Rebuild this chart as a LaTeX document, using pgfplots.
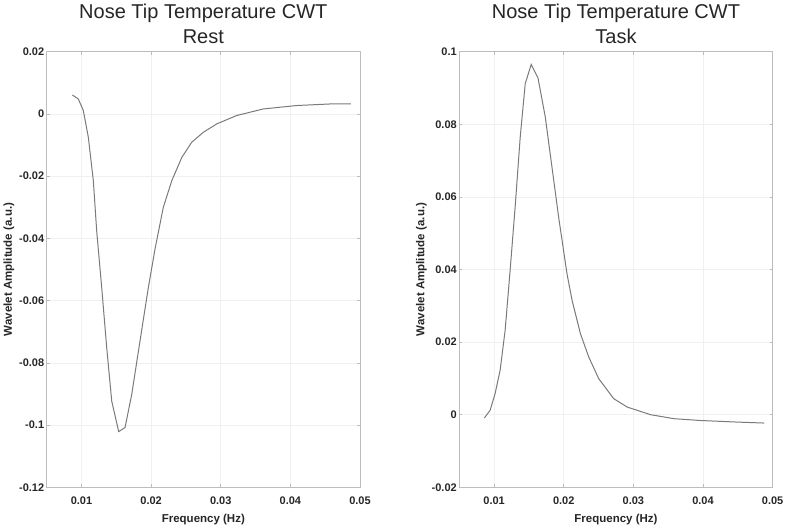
\documentclass[border=0pt]{standalone}
\usepackage{fontspec}
\setmainfont{Liberation Sans}
\usepackage{pgfplots}
\pgfplotsset{compat=1.18}

\definecolor{txt}{HTML}{262626}
\definecolor{curve}{HTML}{7A7A7A}
\definecolor{boxc}{HTML}{BDBDBD}

\pgfplotsset{
  cwt/.style={
    scale only axis,
    anchor=south west,
    width=313.3pt, height=435.6pt,
    xmin=0.005, xmax=0.05,
    scaled ticks=false,
    xtick={0.01,0.02,0.03,0.04,0.05},
    xticklabels={0.01,0.02,0.03,0.04,0.05},
    grid=major,
    major grid style={gray!12, line width=0.6pt},
    axis line style={boxc, line width=0.8pt},
    tick style={boxc, line width=0.6pt},
    major tick length=3pt,
    tick align=inside,
    tick label style={font=\fontsize{11}{12}\selectfont\bfseries, text=txt},
    xticklabel style={yshift=-6pt},
    yticklabel style={xshift=1pt},
    xlabel={Frequency (Hz)},
    ylabel={Wavelet Amplitude (a.u.)},
    label style={font=\fontsize{11.5}{13}\selectfont\bfseries, text=txt},
    xlabel style={yshift=-3pt},
    ylabel style={yshift=-2pt},
    every axis title/.style={at={(0.5,1)}, anchor=south, inner sep=0pt,
      yshift=8pt, align=center, text=txt,
      font=\fontsize{20}{25}\selectfont},
  },
}

\begin{document}
\begin{tikzpicture}
\path[use as bounding box] (0pt,0pt) rectangle (787pt,527pt);

\begin{axis}[cwt, at={(46.7pt,39.7pt)},
  title={Nose Tip Temperature CWT\\Rest},
  ymin=-0.12, ymax=0.02,
  ytick={-0.12,-0.1,-0.08,-0.06,-0.04,-0.02,0,0.02},
  yticklabels={-0.12,-0.1,-0.08,-0.06,-0.04,-0.02,0,0.02},
]
\addplot[curve, line width=1pt] coordinates {
  (0.00868,0.0061) (0.00954,0.0048) (0.01026,0.0011) (0.01098,-0.0075)
  (0.0117,-0.0215) (0.01218,-0.0376) (0.0129,-0.0558) (0.01362,-0.0751)
  (0.01434,-0.0923) (0.01534,-0.1021) (0.01625,-0.1008) (0.01721,-0.0902)
  (0.0184,-0.073) (0.0196,-0.0558) (0.02056,-0.0434) (0.02175,-0.0300)
  (0.02296,-0.0215) (0.0244,-0.0140) (0.02583,-0.0091) (0.0275,-0.0059)
  (0.02943,-0.0032) (0.0323,-0.0005) (0.03612,0.0016) (0.04092,0.0027)
  (0.0457,0.0032) (0.04868,0.0032)
};
\end{axis}

\begin{axis}[cwt, at={(459.3pt,39.7pt)},
  title={Nose Tip Temperature CWT\\Task},
  ymin=-0.02, ymax=0.1,
  ytick={-0.02,0,0.02,0.04,0.06,0.08,0.1},
  yticklabels={-0.02,0,0.02,0.04,0.06,0.08,0.1},
]
\addplot[curve, line width=1pt] coordinates {
  (0.0086,-0.0009) (0.00942,0.0012) (0.01014,0.0058) (0.01086,0.0122)
  (0.01158,0.0232) (0.0123,0.0398) (0.01302,0.0572) (0.01375,0.0765)
  (0.01447,0.0912) (0.01533,0.0965) (0.0163,0.0928) (0.01735,0.082)
  (0.01831,0.0682) (0.01927,0.0544) (0.02047,0.0388) (0.0212,0.0315)
  (0.0224,0.0223) (0.02359,0.0159) (0.02503,0.0099) (0.02719,0.0044)
  (0.02912,0.0021) (0.03248,0.0) (0.03584,-0.0011) (0.03968,-0.0016)
  (0.04448,-0.002) (0.0488,-0.0023)
};
\end{axis}
\end{tikzpicture}
\end{document}
